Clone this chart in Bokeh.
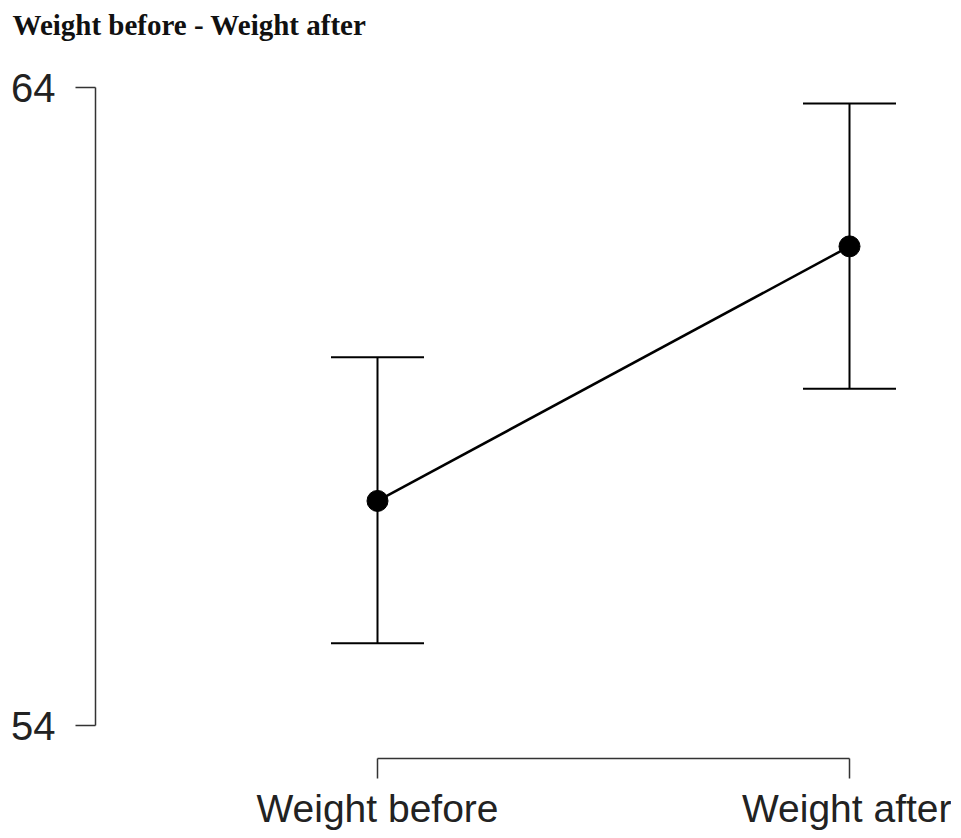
from bokeh.plotting import figure
from bokeh.models import FixedTicker, Range1d, Whisker, ColumnDataSource, TeeHead
from bokeh.embed import file_html
from bokeh.resources import INLINE

# ---- data ----
conditions = ["Weight before", "Weight after"]
means = [57.52, 61.51]
lower = [55.29, 59.28]
upper = [59.77, 63.75]
y_ticks = [54, 64]
title_text = "Weight before - Weight after"

xpos = list(range(1, len(conditions) + 1))
src = ColumnDataSource(dict(x=xpos, mean=means, lower=lower, upper=upper))

# ---- geometry (pixels) ----
FRAME_W = 850
FRAME_H = 718
PX_X = 472.0          # pixels per x unit
PX_Y = 63.8           # pixels per y unit
x_start = 1 - 282 / PX_X
x_end = x_start + FRAME_W / PX_X
y_start = 54 - 33 / PX_Y
y_end = y_start + FRAME_H / PX_Y

p = figure(frame_width=FRAME_W, frame_height=FRAME_H,
           x_range=Range1d(x_start, x_end), y_range=Range1d(y_start, y_end),
           output_backend="svg", toolbar_location=None,
           min_border_left=95, min_border_right=6,
           min_border_top=40, min_border_bottom=0)

p.xgrid.visible = False
p.ygrid.visible = False
p.outline_line_color = None
p.background_fill_color = "white"

AX_COL = "#333333"
LBL_COL = "#222222"

# y axis
ya = p.yaxis[0]
ya.ticker = FixedTicker(ticks=y_ticks)
ya.bounds = (min(y_ticks), max(y_ticks))
ya.major_tick_out = 20
ya.major_tick_in = 0
ya.minor_tick_out = 0
ya.minor_tick_in = 0
ya.axis_line_color = AX_COL
ya.axis_line_width = 1.5
ya.major_tick_line_color = AX_COL
ya.major_tick_line_width = 1.5
ya.major_label_text_font = "Liberation Sans"
ya.major_label_text_font_size = "40px"
ya.major_label_text_color = LBL_COL
ya.major_label_standoff = 20

# x axis
xa = p.xaxis[0]
xa.ticker = FixedTicker(ticks=xpos)
xa.bounds = (min(xpos), max(xpos))
xa.major_label_overrides = {xv: c for xv, c in zip(xpos, conditions)}
xa.major_tick_out = 20
xa.major_tick_in = 0
xa.minor_tick_out = 0
xa.minor_tick_in = 0
xa.axis_line_color = AX_COL
xa.axis_line_width = 1.5
xa.major_tick_line_color = AX_COL
xa.major_tick_line_width = 1.5
xa.major_label_text_font = "Liberation Sans"
xa.major_label_text_font_size = "39px"
xa.major_label_text_color = LBL_COL
xa.major_label_standoff = 8

# title
p.title.text = title_text
p.title.text_font = "Liberation Serif"
p.title.text_font_style = "bold"
p.title.text_font_size = "29px"
p.title.text_color = "#111111"
p.title.align = "left"
p.title.offset = -83
p.title.standoff = 0

# error bars
wh = Whisker(base="x", upper="upper", lower="lower", source=src,
             line_color="black", line_width=2,
             upper_head=TeeHead(size=93, line_color="black", line_width=2),
             lower_head=TeeHead(size=93, line_color="black", line_width=2))
p.add_layout(wh)

# connecting line and points
p.line("x", "mean", source=src, line_color="black", line_width=2.5)
p.scatter("x", "mean", source=src, size=21, fill_color="black", line_color="black")

open("out.html", "w").write(file_html(p, INLINE))
